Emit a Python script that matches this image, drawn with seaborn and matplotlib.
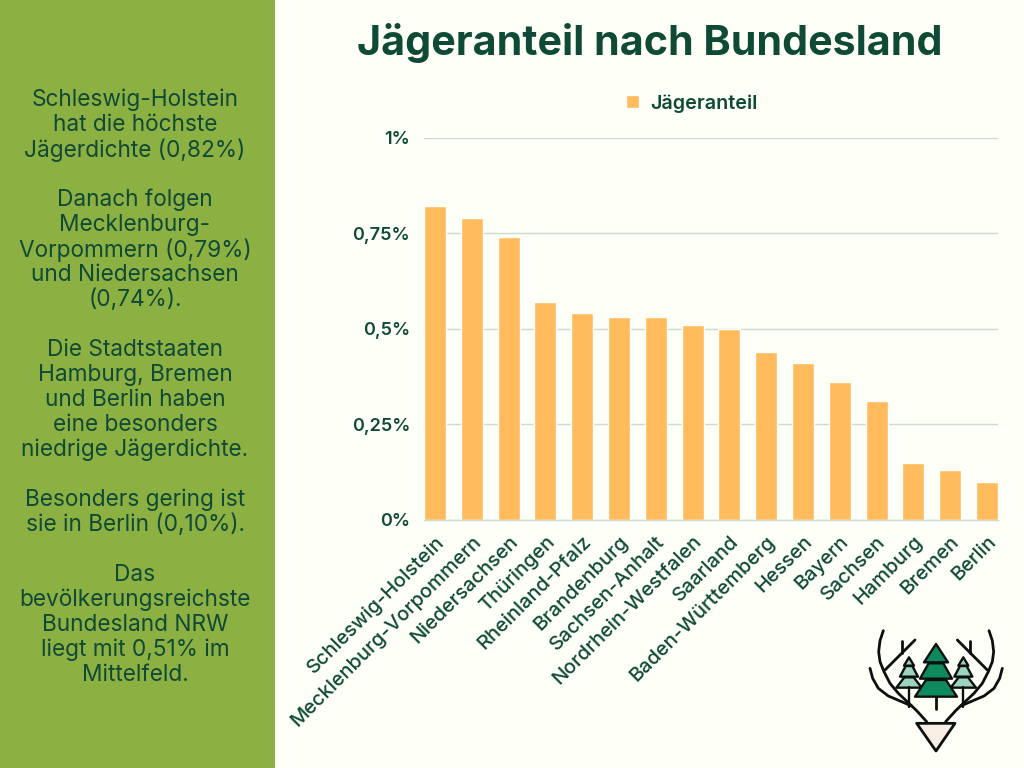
import matplotlib
matplotlib.use("Agg")
import matplotlib.pyplot as plt
from matplotlib.patches import Polygon, Rectangle
from matplotlib.transforms import ScaledTranslation
import seaborn as sns
import pandas as pd

states = ["Schleswig-Holstein", "Mecklenburg-Vorpommern", "Niedersachsen", "Thüringen",
          "Rheinland-Pfalz", "Brandenburg", "Sachsen-Anhalt", "Nordrhein-Westfalen",
          "Saarland", "Baden-Württemberg", "Hessen", "Bayern", "Sachsen", "Hamburg",
          "Bremen", "Berlin"]
shares = [0.82, 0.79, 0.74, 0.57, 0.54, 0.53, 0.53, 0.51, 0.50, 0.44, 0.41, 0.36, 0.31, 0.15, 0.13, 0.10]
y_ticks = [0, 0.25, 0.5, 0.75, 1]
y_labels = ["0%", "0,25%", "0,5%", "0,75%", "1%"]
title = "Jägeranteil nach Bundesland"
series_name = "Jägeranteil"
side_lines = ["Schleswig-Holstein", "hat die höchste", "Jägerdichte (0,82%)", "",
              "Danach folgen", "Mecklenburg-", "Vorpommern (0,79%)", "und Niedersachsen", "(0,74%).", "",
              "Die Stadtstaaten", "Hamburg, Bremen", "und Berlin haben", "eine besonders", "niedrige Jägerdichte.", "",
              "Besonders gering ist", "sie in Berlin (0,10%).", "",
              "Das", "bevölkerungsreichste", "Bundesland NRW", "liegt mit 0,51% im", "Mittelfeld."]

BG = "#FEFFF6"; PANEL = "#8DB042"; DARK = "#0E4A36"; BAR = "#FFBB5C"; GRID = "#C8DBD0"
W, H = 1024, 768

sns.set_theme(style="white")
plt.rcParams["font.family"] = ["Inter", "DejaVu Sans"]

fig = plt.figure(figsize=(W/100, H/100), dpi=100, facecolor=BG)

bgax = fig.add_axes([0, 0, 1, 1], zorder=0)
bgax.set_xlim(0, W); bgax.set_ylim(H, 0); bgax.axis("off")
bgax.add_patch(Rectangle((0, 0), 275, H, fc=PANEL, ec="none"))
bgax.text(650, 43, title, ha="center", va="center", fontsize=29.7, fontweight="bold", color=DARK)
y0 = 100
for i, line in enumerate(side_lines):
    bgax.text(135, y0 + i*25, line, ha="center", va="center", fontsize=16.3, color=DARK)

ax = fig.add_axes([424/W, 1-520/H, (998-424)/W, (520-137.5)/H], zorder=1)
ax.patch.set_alpha(0)
df = pd.DataFrame({"state": states, series_name: shares})
sns.barplot(data=df, x="state", y=series_name, color=BAR, saturation=1, width=0.6,
            ax=ax, zorder=2, label=series_name, legend=False)
ax.set_xlim(-0.3, 15.3)
ax.set_ylim(0, 1)
ax.set_xlabel(""); ax.set_ylabel("")
ax.set_yticks(y_ticks, y_labels, fontsize=13, fontweight="semibold", color=DARK)
ax.set_xticks(range(len(states)))
ax.set_xticklabels(states, rotation=45, ha="right", rotation_mode="anchor",
                   fontsize=14.4, fontweight="medium", color=DARK)
shift = ScaledTranslation(6/100, 0, fig.dpi_scale_trans)
for t in ax.get_xticklabels():
    t.set_transform(t.get_transform() + shift)
ax.tick_params(axis="y", length=0, pad=10)
ax.tick_params(axis="x", length=0, pad=9)
ax.yaxis.grid(True, color=GRID, lw=1)
ax.set_axisbelow(True)
for s in ["top", "right", "left"]:
    ax.spines[s].set_visible(False)
ax.spines["bottom"].set_color(GRID); ax.spines["bottom"].set_linewidth(1)

h, l = ax.get_legend_handles_labels()
leg = fig.legend(h[:1], l[:1], loc="center", bbox_to_anchor=(692/W, 1-103.5/H), frameon=False,
                 handlelength=0.65, handleheight=0.65, handletextpad=0.6,
                 prop={"size": 14.2, "weight": "semibold"}, labelcolor=DARK)

logo = fig.add_axes([0, 0, 1, 1], zorder=3)
logo.set_xlim(0, W); logo.set_ylim(H, 0); logo.axis("off")
Z = lambda pts: [(860 + x/3, 620 + y/3) for x, y in pts]
K = "#0B0F0E"
def line(pts, lw=2):
    xy = Z(pts)
    logo.plot([p[0] for p in xy], [p[1] for p in xy], color=K, lw=lw, solid_capstyle="round", solid_joinstyle="round")
def poly(pts, fc, lw=1.7):
    logo.add_patch(Polygon(Z(pts), closed=True, fc=fc, ec=K, lw=lw, joinstyle="round"))
for sgn in (0, 1):
    f = (lambda x: x) if sgn == 0 else (lambda x: 457 - x)
    mir = lambda pts: [(f(x), y) for x, y in pts]
    line(mir([(70, 32), (60, 62), (56, 95), (60, 125), (72, 155), (90, 190), (115, 220), (145, 248), (170, 272), (200, 305)]))
    line(mir([(30, 145), (38, 175), (55, 205), (85, 228), (125, 245), (155, 258)]))
    line(mir([(75, 150), (120, 105), (165, 60)]))
    line(mir([(127, 100), (127, 62)]))
for cx in (147, 310):
    line([(cx, 200), (cx, 262)], 1.7)
    poly([(cx-38, 203), (cx-14, 172), (cx+14, 172), (cx+38, 203)], "#9CD4BE")
    poly([(cx-27, 170), (cx-10, 138), (cx+10, 138), (cx+27, 170)], "#9CD4BE")
    poly([(cx-15, 137), (cx, 112), (cx+15, 137)], "#9CD4BE")
line([(228, 230), (228, 268)], 2)
poly([(165, 230), (198, 180), (258, 180), (291, 230)], "#0F8A5F")
poly([(180, 176), (206, 130), (250, 130), (276, 176)], "#0F8A5F")
poly([(192, 127), (228, 72), (264, 127)], "#0F8A5F")
poly([(170, 310), (285, 310), (228, 393)], "#F7EFE4", lw=2)

fig.savefig("out.png", dpi=100, facecolor=BG)
